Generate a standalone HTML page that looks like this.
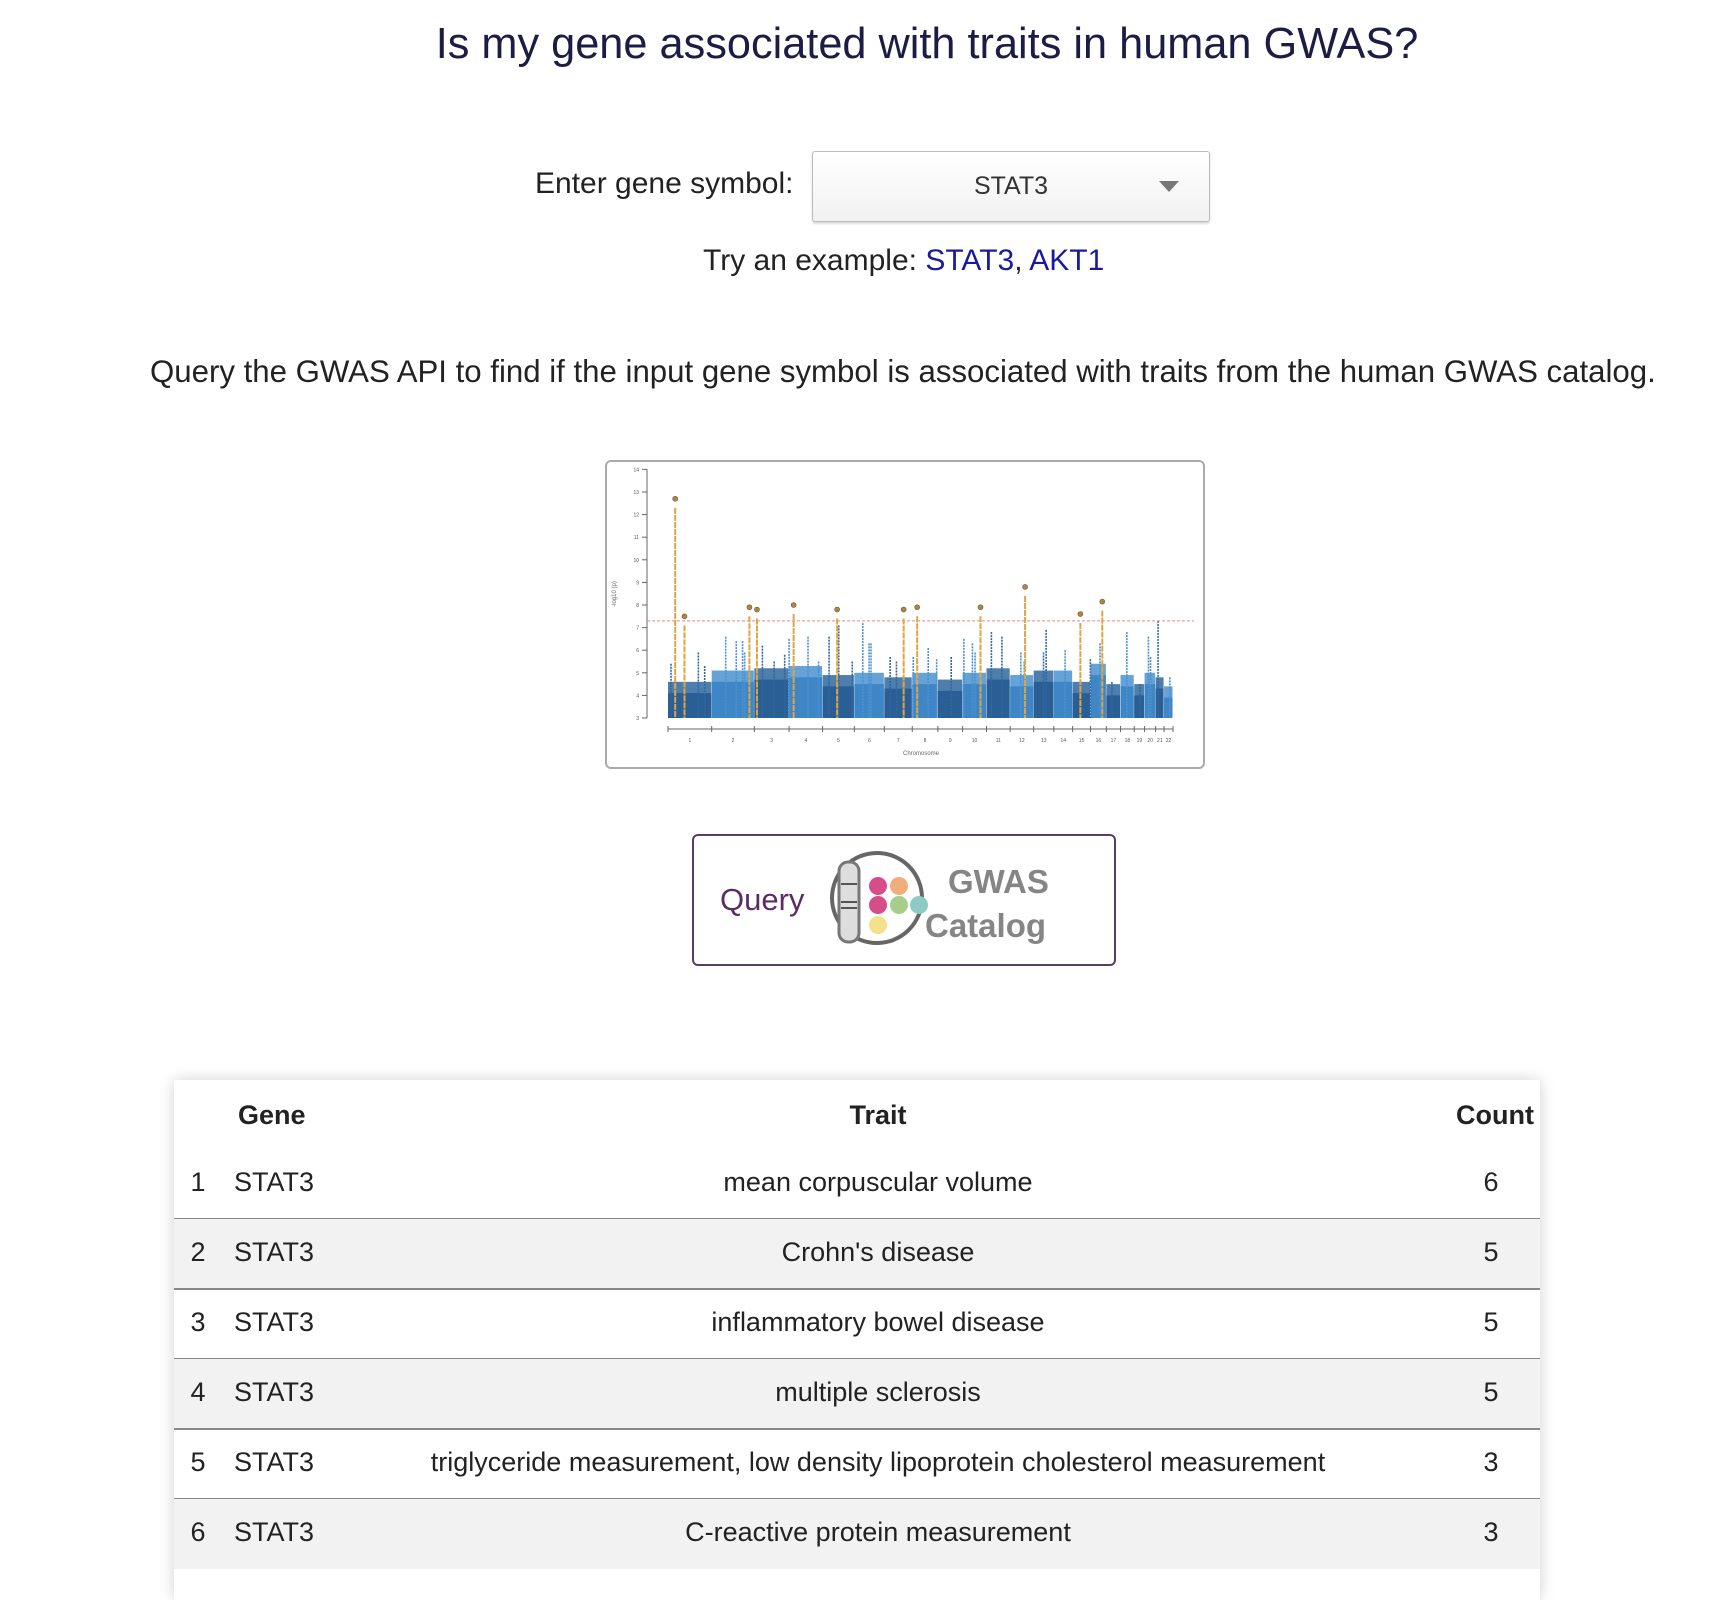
<!DOCTYPE html>
<html><head><meta charset="utf-8">
<style>
body{margin:0;width:1712px;height:1566px;background:#fff;position:relative;overflow:hidden;font-family:"Liberation Sans",sans-serif;color:#222}
.abs{position:absolute;white-space:nowrap}
#title{left:0;width:1854px;top:20px;text-align:center;font-size:43.3px;color:#1c1c45;}
#lbl{left:535px;top:167px;font-size:30px;color:#222}
#dd{left:812px;top:151px;width:396px;height:69px;border:1px solid #bbb;border-radius:3px;background:linear-gradient(#fff,#f1f1f1);box-shadow:0 2px 2px rgba(0,0,0,.15)}
#dd span{position:absolute;left:0;width:396px;text-align:center;top:20px;font-size:25px;color:#333}
#dd i{position:absolute;left:346px;top:29px;width:0;height:0;border-left:10px solid transparent;border-right:10px solid transparent;border-top:11px solid #777}
#try{left:703px;top:244px;font-size:30px;color:#222}
#try a{color:#1a1aa0;text-decoration:none}
#para{left:150px;top:354px;font-size:31.2px;color:#222}
#frame{left:605px;top:460px;width:596px;height:305px;border:2px solid #aaa;border-radius:6px}
#qbtn{left:692px;top:834px;width:420px;height:128px;border:2px solid #5a3a66;border-radius:6px;background:#fff}
#table{left:174px;top:1080px;width:1366px;height:520px;background:#fff;box-shadow:0 0 14px rgba(0,0,0,.18)}
.row{position:absolute;left:0;width:1366px;height:70px;font-size:27px}
.row.s{background:#f2f2f2}
.row div{position:absolute;top:18px}
.bd{position:absolute;left:0;width:1366px;height:2px;background:#888}
</style></head><body>
<div class="abs" id="title">Is my gene associated with traits in human GWAS?</div>
<div class="abs" id="lbl">Enter gene symbol:</div>
<div class="abs" id="dd"><span>STAT3</span><i></i></div>
<div class="abs" id="try">Try an example: <a>STAT3</a>, <a>AKT1</a></div>
<div class="abs" id="para">Query the GWAS API to find if the input gene symbol is associated with traits from the human GWAS catalog.</div>

<div class="abs" id="frame"></div>
<svg class="abs" style="left:0;top:0" width="1712" height="1566"><g id="chart" transform="translate(-3,-3)"></g></svg>

<div class="abs" id="qbtn">
<svg width="421" height="129" style="position:absolute;left:0;top:0">
<text x="26" y="74" font-size="31" fill="#5a2d66" font-family="Liberation Sans, sans-serif">Query</text>
<g>
<circle cx="183" cy="62" r="45" fill="#fff" stroke="#666" stroke-width="4"/>
<rect x="145" y="26" width="20" height="80" rx="9" fill="#ddd" stroke="#777" stroke-width="3"/>
<line x1="147" y1="48" x2="163" y2="48" stroke="#555" stroke-width="2"/>
<line x1="147" y1="66" x2="163" y2="66" stroke="#555" stroke-width="2"/>
<line x1="147" y1="72" x2="163" y2="72" stroke="#555" stroke-width="2"/>
<circle cx="184" cy="50" r="9" fill="#d64d8a"/><circle cx="205" cy="50" r="9" fill="#efaf7a"/>
<circle cx="184" cy="69" r="9" fill="#d64d8a"/><circle cx="205" cy="69" r="9" fill="#a8cd8a"/><circle cx="225" cy="69" r="9" fill="#8fcbc3"/>
<circle cx="184" cy="89" r="9" fill="#f3e18c"/>
<text x="254" y="57" font-size="33" font-weight="bold" fill="#858585" font-family="Liberation Sans, sans-serif">GWAS</text>
<text x="231" y="101" font-size="33" font-weight="bold" fill="#858585" font-family="Liberation Sans, sans-serif">Catalog</text>
</g></svg></div>

<div class="abs" id="table">
<div class="row" style="top:0;font-weight:bold">
<div style="left:64px;top:20px">Gene</div>
<div style="left:0;width:1408px;text-align:center;top:20px">Trait</div>
<div style="left:1282px;top:20px">Count</div>
</div>
<div id="rows"></div>
</div>

<script>
const genes=["STAT3","STAT3","STAT3","STAT3","STAT3","STAT3"];
const traits=["mean corpuscular volume","Crohn's disease","inflammatory bowel disease","multiple sclerosis","triglyceride measurement, low density lipoprotein cholesterol measurement","C-reactive protein measurement"];
const counts=[6,5,5,5,3,3];
const rows=document.getElementById('rows');
traits.forEach((t,i)=>{
 const r=document.createElement('div');
 r.className='row'+(i%2?' s':'');
 r.style.top=(69+i*70)+'px';
 
 
 r.innerHTML='<div style="left:0;width:48px;text-align:center">'+(i+1)+'</div><div style="left:60px">'+genes[i]+'</div><div style="left:0;width:1408px;text-align:center">'+t+'</div><div style="left:1297px;width:40px;text-align:center">'+counts[i]+'</div>';
 rows.appendChild(r);
 if(i<5){const b=document.createElement('div');b.className='bd';b.style.top=(69+(i+1)*70-1)+'px';
 
 
 rows.appendChild(b);}
});
</script>

<script>
// Manhattan plot data
const chromNames=["1","2","3","4","5","6","7","8","9","10","11","12","13","14","15","16","17","18","19","20","21","22"];
const chromLengths=[249,243,198,191,181,171,159,146,141,136,135,134,115,107,102,90,81,78,59,63,48,51];
const baseLevels=[4.6,5.1,5.2,5.3,4.9,5.0,4.8,5.0,4.7,5.0,5.2,4.9,5.1,5.1,4.6,5.4,4.5,4.9,4.5,5.0,4.8,4.4];
const spikePos=[17,173,209,329,389,425,437,538,605,665,690,798,858,918,973,1050,1110,1146,1157,1266,1302,1398,1483,1531,1614,1686,1735,1750,1843,1903,2011,2030,2140,2155,2263,2407,2462,2530,2615,2690,2738,2750,2793,2860];
const spikeVal=[5.4,5.9,5.3,6.6,6.4,6.4,5.9,6.2,5.5,5.8,6.5,6.6,5.5,6.6,7.1,5.5,7.2,6.3,6.3,5.7,5.5,5.7,6.1,5.6,5.7,6.5,6.3,5.9,6.8,6.6,5.9,5.5,5.9,6.9,6.0,5.6,6.3,4.6,6.8,4.5,6.6,5.7,7.3,4.8];
const hitPos=[41,94,464,507,716,964,1343,1420,1781,2035,2350,2475];
const hitVal=[12.7,7.5,7.9,7.8,8.0,7.8,7.8,7.9,7.9,8.8,7.6,8.15];
const yTicks=[3,4,5,6,7,8,9,10,11,12,13,14];
const threshold=7.3;

const NS='http://www.w3.org/2000/svg';
const svg=document.getElementById('chart');
const total=chromLengths.reduce((a,b)=>a+b,0);
const X=c=>671+c/total*505;
const Y=v=>721-(v-3)*22.6;
function mk(tag,attrs,name){const e=document.createElementNS(NS,tag);for(const k in attrs)e.setAttribute(k,attrs[k]);
 
 
 svg.appendChild(e);return e;}
mk('line',{x1:650,y1:Y(14),x2:650,y2:Y(3),stroke:'#666','stroke-width':1},'y-axis');
yTicks.forEach(t=>{mk('line',{x1:645,x2:650,y1:Y(t),y2:Y(t),stroke:'#666'},'y-tick');
 const tx=mk('text',{x:642,y:Y(t)+2,'font-size':5,'text-anchor':'end',fill:'#555'},'y-tick-label');tx.textContent=t;});
const yl=mk('text',{x:619,y:597,'font-size':6,'text-anchor':'middle',fill:'#666',transform:'rotate(-90 619 597)'},'y-axis-title');yl.textContent='-log10 (p)';
let cum=0;const starts=[];
chromLengths.forEach((L,i)=>{starts.push(cum);
 const col=i%2?'#4a92d0':'#2f679e';
 mk('rect',{x:X(cum),y:Y(baseLevels[i]),width:X(cum+L)-X(cum)-0.5,height:Y(3)-Y(baseLevels[i]),fill:col,opacity:0.85},'chrom-block-'+chromNames[i]);
 mk('rect',{x:X(cum),y:Y(baseLevels[i]-0.5),width:X(cum+L)-X(cum)-0.5,height:Y(3)-Y(baseLevels[i]-0.5),fill:i%2?'#3f86c6':'#2a5f95'},'chrom-core-'+chromNames[i]);
 cum+=L;});
mk('line',{x1:X(0),x2:X(total),y1:732,y2:732,stroke:'#666'},'x-axis');
starts.concat([total]).forEach(s=>mk('line',{x1:X(s),x2:X(s),y1:729,y2:735,stroke:'#666'},'x-tick'));
chromNames.forEach((n,i)=>{const t=mk('text',{x:X(starts[i]+chromLengths[i]/2),y:745,'font-size':5,'text-anchor':'middle',fill:'#555'},'x-tick-label');t.textContent=n;});
const xl=mk('text',{x:924,y:758,'font-size':6,'text-anchor':'middle',fill:'#666'},'x-axis-title');xl.textContent='Chromosome';
spikePos.forEach((p,i)=>{let ci=0;while(ci<starts.length-1&&starts[ci+1]<=p)ci++;
 mk('line',{x1:X(p),x2:X(p),y1:Y(spikeVal[i]),y2:Y(3),stroke:ci%2?'#4a92d0':'#2f679e','stroke-width':1.6,'stroke-dasharray':'2 1'},'snp-spike');});
mk('line',{x1:650,x2:1197,y1:Y(threshold),y2:Y(threshold),stroke:'#e08a8a','stroke-width':1,'stroke-dasharray':'3 2'},'significance-threshold');
hitPos.forEach((p,i)=>{
 mk('line',{x1:X(p),x2:X(p),y1:Y(hitVal[i]-0.4),y2:Y(3),stroke:'#e0a444','stroke-width':2,'stroke-dasharray':'6 1'},'hit-column');
 mk('circle',{cx:X(p),cy:Y(hitVal[i]),r:2.5,fill:'#a8874a',stroke:'#7a5a2a','stroke-width':0.6},'hit-marker');});
</script>
</body></html>
